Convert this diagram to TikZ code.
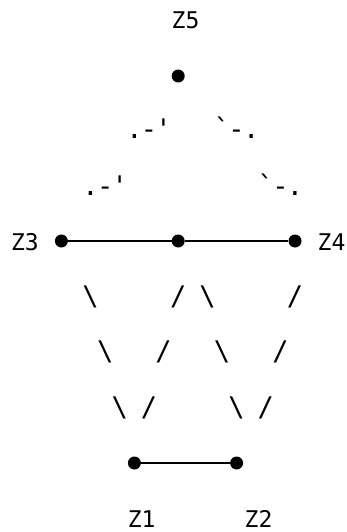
\documentclass[tikz,border=0pt]{standalone}
\usepackage{fontspec}
\setmonofont{DejaVu Sans Mono}

\tikzset{
    pt/.style={circle,fill,inner sep=0pt,minimum size=13pt},
    lbl/.style={font=\ttfamily\fontsize{23}{25}\selectfont,inner sep=0pt},
    ch/.style={font=\ttfamily\fontsize{27}{29}\selectfont,inner sep=0pt},
}

\begin{document}
\begin{tikzpicture}[x=1pt,y=-1pt]
    \def\cw{14.6}
    \useasboundingbox (0,0) rectangle (347,532);

    \node[pt] (z5) at (178.2,76) {};
    \node[pt] (z3) at (61.4,241) {};
    \node[pt] (m)  at (178.2,241) {};
    \node[pt] (z4) at (295,241) {};
    \node[pt] (z1) at (134.4,463) {};
    \node[pt] (z2) at (236.6,463) {};

    \node[lbl] (l5) at (185.5,20) {Z5};
    \node[lbl] (l3) at (24.9,242) {Z3};
    \node[lbl] (l4) at (331.5,242) {Z4};
    \node[lbl] (l1) at (141.7,519) {Z1};
    \node[lbl] (l2) at (258.5,519) {Z2};

    \draw[line width=2.2pt] (z3) -- (m) -- (z4);
    \draw[line width=2.2pt] (z1) -- (z2);

    \foreach \c/\y/\t [count=\i] in {9/139/., 10/139/-, 11/139/', 15/139/`, 16/139/-, 17/139/.,
                                     6/195/., 7/195/-, 8/195/', 18/195/`, 19/195/-, 20/195/.}
        \node[ch,anchor=base] (d\i) at ({3+\cw*\c},\y) {\t};

    \foreach \c/\y in {6/297, 7/352, 8/408, 14/297, 15/352, 16/408}
        \node[ch] (bs\c) at ({3+\cw*\c},\y) {\textbackslash};
    \foreach \c/\y in {12/297, 11/352, 10/408, 20/297, 19/352, 18/408}
        \node[ch] (fs\c) at ({3+\cw*\c},\y) {/};
\end{tikzpicture}
\end{document}
